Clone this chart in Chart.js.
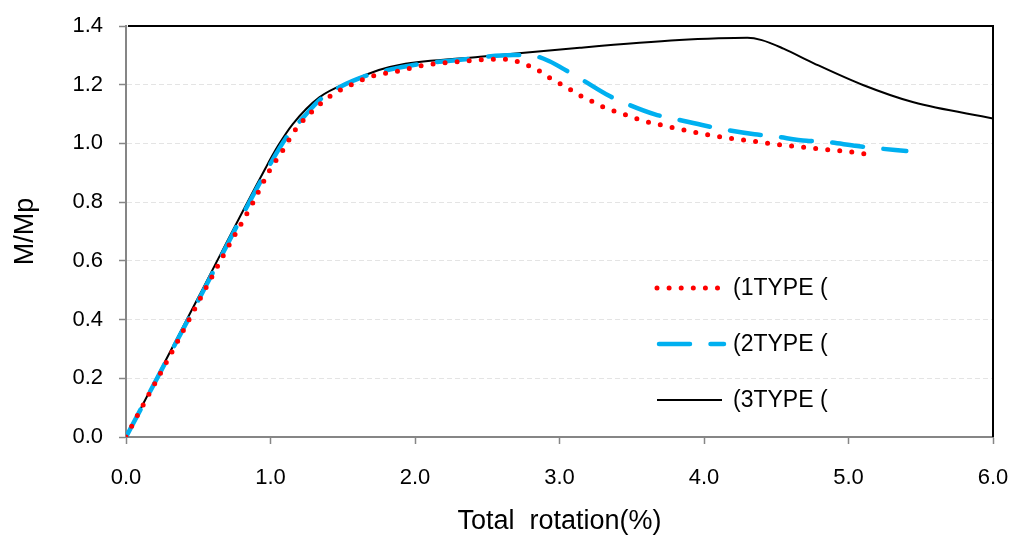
<!DOCTYPE html>
<html>
<head>
<meta charset="utf-8">
<script src="https://cdn.jsdelivr.net/npm/chart.js@4.4.1/dist/chart.umd.min.js"></script>
<style>
  html, body { margin: 0; padding: 0; background: #fff; }
  #wrap { width: 1011px; height: 535px; }
</style>
</head>
<body>
<div id="wrap"><canvas id="c"></canvas></div>
<script>
// ===== DATA =====
const seriesNames = ['(1TYPE (', '(2TYPE (', '(3TYPE ('];

// TYPE 1 - red dotted
const rot1 = [0, 0.07, 0.28, 0.48, 0.67, 0.88, 0.99, 1.09, 1.17, 1.29, 1.41, 1.56, 1.71, 1.87, 2.05, 2.38, 2.55, 2.65, 2.72, 2.79, 2.87, 2.93, 3.01, 3.08, 3.15, 3.23, 3.30, 3.38, 3.46, 3.54, 3.62, 3.70, 3.78, 3.87, 4.03, 4.20, 4.36, 4.53, 4.69, 4.87, 5.03, 5.11];
const m1   = [0, 0.065, 0.255, 0.44, 0.615, 0.80, 0.905, 0.98, 1.045, 1.11, 1.16, 1.20, 1.23, 1.245, 1.265, 1.282, 1.287, 1.286, 1.277, 1.264, 1.244, 1.224, 1.202, 1.182, 1.161, 1.142, 1.125, 1.11, 1.097, 1.083, 1.072, 1.063, 1.054, 1.045, 1.029, 1.016, 1.006, 0.995, 0.987, 0.978, 0.970, 0.965];

// TYPE 2 - blue dashed
const rot2 = [0, 0.5, 0.97, 1.11, 1.23, 1.34, 1.49, 1.64, 1.76, 1.99, 2.33, 2.68, 2.80, 2.93, 3.03, 3.14, 3.34, 3.44, 3.66, 3.83, 4.01, 4.12, 4.35, 4.47, 4.71, 4.83, 5.06, 5.17, 5.40];
const m2   = [0, 0.465, 0.905, 1.02, 1.09, 1.148, 1.195, 1.227, 1.244, 1.267, 1.286, 1.301, 1.300, 1.28, 1.253, 1.222, 1.163, 1.14, 1.099, 1.08, 1.06, 1.049, 1.031, 1.025, 1.009, 1.006, 0.991, 0.985, 0.974];

// TYPE 3 - black solid
const rot3 = [0, 0.5, 0.97, 1.05, 1.154, 1.338, 1.568, 1.75, 1.9, 2.45, 3.14, 3.83, 4.1, 4.3, 4.4, 4.55, 4.76, 5.1, 5.45, 6.0];
const m3   = [0, 0.475, 0.92, 0.99, 1.066, 1.157, 1.214, 1.25, 1.268, 1.295, 1.326, 1.352, 1.358, 1.36, 1.352, 1.323, 1.273, 1.199, 1.14, 1.085];

const xTicks = [0, 1, 2, 3, 4, 5, 6];
const yTicks = [0, 0.2, 0.4, 0.6, 0.8, 1.0, 1.2, 1.4];

const toPts = (xs, ys) => xs.map((x, i) => ({ x: x, y: ys[i] }));
const FONT = "Arial, 'Liberation Sans', sans-serif";

// ===== FRAME: black top + right edge =====
const framePlugin = {
    id: 'frame',
    afterDraw(chart) {
        const { ctx, chartArea: a } = chart;
        ctx.save();
        ctx.strokeStyle = '#000';
        ctx.lineWidth = 2;
        ctx.beginPath();
        ctx.moveTo(a.left + 2, a.top);
        ctx.lineTo(a.right, a.top);
        ctx.lineTo(a.right, a.bottom);
        ctx.stroke();
        ctx.restore();
    }
};

// ===== LEGEND inside plot =====
const legendPlugin = {
    id: 'insideLegend',
    afterDraw(chart) {
        const ctx = chart.ctx;
        const rows = [
            { y: 288, x0: 657, x1: 720 },
            { y: 344, x0: 659, x1: 724 },
            { y: 400, x0: 657, x1: 722 }
        ];
        chart.data.datasets.forEach((ds, i) => {
            const r = rows[i];
            ctx.save();
            ctx.strokeStyle = ds.borderColor;
            ctx.lineWidth = ds.borderWidth;
            ctx.setLineDash(ds.borderDash || []);
            ctx.lineCap = ds.borderCapStyle || 'butt';
            ctx.beginPath();
            ctx.moveTo(r.x0, r.y);
            ctx.lineTo(r.x1, r.y);
            ctx.stroke();
            ctx.setLineDash([]);
            ctx.fillStyle = '#000';
            ctx.font = '23px ' + FONT;
            ctx.textBaseline = 'middle';
            ctx.textAlign = 'left';
            ctx.fillText(ds.label, 733, r.y + 1);
            ctx.restore();
        });
    }
};

new Chart(document.getElementById('c'), {
    type: 'scatter',
    data: {
        datasets: [{
            label: seriesNames[0],
            data: toPts(rot1, m1),
            showLine: true,
            borderColor: '#ff0000',
            borderWidth: 5,
            borderDash: [0, 12.1],
            borderCapStyle: 'round',
            pointRadius: 0,
            cubicInterpolationMode: 'monotone'
        }, {
            label: seriesNames[1],
            data: toPts(rot2, m2),
            showLine: true,
            borderColor: '#00b0f0',
            borderWidth: 4.5,
            borderDash: [31, 20.5],
            borderCapStyle: 'round',
            pointRadius: 0,
            cubicInterpolationMode: 'monotone'
        }, {
            label: seriesNames[2],
            data: toPts(rot3, m3),
            showLine: true,
            borderColor: '#000000',
            borderWidth: 2,
            pointRadius: 0,
            cubicInterpolationMode: 'monotone'
        }]
    },
    options: {
        responsive: true,
        maintainAspectRatio: false,
        animation: false,
        devicePixelRatio: 1,
        layout: { padding: 0 },
        plugins: {
            legend: { display: false },
            tooltip: { enabled: false }
        },
        scales: {
            x: {
                type: 'linear',
                min: xTicks[0],
                max: xTicks[xTicks.length - 1],
                afterBuildTicks: s => { s.ticks = xTicks.map(v => ({ value: v })); },
                // pin plot box: 98px below, 18px to the right
                afterFit: s => { s.height = 98; s.paddingRight = 18; s.paddingLeft = 0; },
                ticks: {
                    callback: v => Number(v).toFixed(1),
                    font: { family: FONT, size: 22 },
                    color: '#000',
                    padding: 21,
                    maxRotation: 0
                },
                grid: {
                    drawOnChartArea: false,
                    tickLength: 7,
                    tickColor: '#868686',
                    tickWidth: 1.5
                },
                border: { color: '#868686', width: 2 },
                title: {
                    display: true,
                    text: 'Total  rotation(%)',
                    font: { family: FONT, size: 27, lineHeight: 1.0 },
                    color: '#000',
                    padding: { top: 0, bottom: 0 }
                }
            },
            y: {
                min: yTicks[0],
                max: yTicks[yTicks.length - 1],
                afterBuildTicks: s => { s.ticks = yTicks.map(v => ({ value: v })); },
                afterFit: s => { s.width = 126; s.paddingTop = 26; s.paddingBottom = 0; },
                ticks: {
                    callback: v => Number(v).toFixed(1),
                    font: { family: FONT, size: 22 },
                    color: '#000',
                    padding: 16
                },
                grid: {
                    color: '#e4e4e4',
                    lineWidth: 1,
                    tickLength: 7,
                    tickColor: '#868686',
                    tickWidth: 1.5
                },
                border: { color: '#868686', width: 2, dash: [5, 3] },
                title: {
                    display: true,
                    text: 'M/Mp',
                    font: { family: FONT, size: 27 },
                    color: '#000',
                    padding: { top: 9, bottom: 0 }
                }
            }
        }
    },
    plugins: [framePlugin, legendPlugin]
});
</script>
</body>
</html>
